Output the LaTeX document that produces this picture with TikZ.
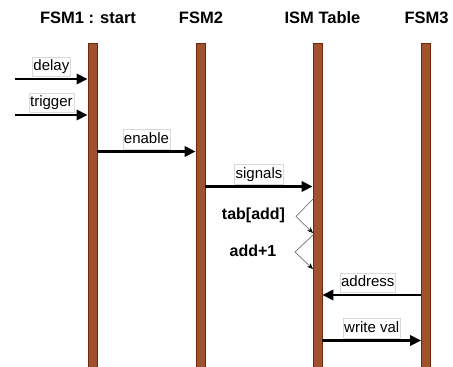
\documentclass[tikz,border=0pt]{standalone}
\usepackage{fontspec}
\setmainfont{Liberation Sans}
\usetikzlibrary{arrows.meta,positioning}
\definecolor{lifebar}{RGB}{160,82,45}
\definecolor{lifeedge}{RGB}{112,40,12}
\tikzset{
  lifeline/.style={fill=lifebar,draw=lifeedge,line width=0.6pt,minimum width=9pt,minimum height=324pt,inner sep=0pt},
  head/.style={font=\fontsize{16.5}{18}\selectfont\bfseries,anchor=base},
  msg/.style={line width=2.8pt,-{Triangle[length=11pt,width=10pt]}},
  msglabel/.style={draw=black!15,line width=0.5pt,fill=white,inner xsep=1.2pt,inner ysep=2.5pt,text height=11pt,text depth=3.5pt,font=\fontsize{15}{16}\selectfont,above=2.2pt},
  selfmsg/.style={draw=black!55,line width=0.7pt,-{Stealth[length=6pt,width=5pt,black]}},
  selflabel/.style={font=\fontsize{16}{18}\selectfont\bfseries}
}

\begin{document}
\begin{tikzpicture}[x=1pt,y=-1pt]
  \useasboundingbox (0,0) rectangle (453,367);
  %\draw[help lines,step=20] (0,0) grid (453,367);

  % lifelines
  \node[lifeline] (fsmA) at (92.5,205) {};
  \node[lifeline] (fsmB) at (200.5,205) {};
  \node[lifeline] (ism)  at (317.5,205) {};
  \node[lifeline] (fsmC) at (426,205) {};

  % heads
  \node[head] (hA) at (88,23)    {FSM1 : start};
  \node[head] (hB) at (201,23)   {FSM2};
  \node[head] (hI) at (322.5,23) {ISM Table};
  \node[head] (hC) at (426.5,23) {FSM3};

  % messages
  \coordinate (delayS) at (15,79);
  \draw[msg] (delayS) -- (delayS -| fsmA.west) node[msglabel,midway] (delayL) {delay};
  \coordinate (trigS) at (15,115);
  \draw[msg] (trigS) -- (trigS -| fsmA.west) node[msglabel,midway] (trigL) {trigger};
  \coordinate (enableS) at (97,151.5);
  \draw[msg] (enableS -| fsmA.east) -- (enableS -| fsmB.west) node[msglabel,midway] (enableL) {enable};
  \coordinate (sigS) at (205,186.5);
  \draw[msg] (sigS -| fsmB.east) -- (sigS -| ism.west) node[msglabel,midway] (sigL) {signals};
  \coordinate (addrS) at (421,295);
  \draw[msg] (addrS -| fsmC.west) -- (addrS -| ism.east) node[msglabel,midway,xshift=-4pt] (addrL) {address};
  \coordinate (wvalS) at (323,340.5);
  \draw[msg] (wvalS -| ism.east) -- (wvalS -| fsmC.west) node[msglabel,midway] (wvalL) {write val};

  % self messages on the table
  \coordinate (tabS) at (313,199);
  \coordinate (tabK) at (296,216.5);
  \coordinate (tabE) at (313,233);
  \draw[selfmsg] (tabS) -- (tabK) -- (tabE);
  \node[selflabel] (tabL) at (253.5,215.5) {tab[add]};
  \coordinate (incS) at (313,235);
  \coordinate (incK) at (295,252);
  \coordinate (incE) at (313,269);
  \draw[selfmsg] (incS) -- (incK) -- (incE);
  \node[selflabel] (incL) at (253,251) {add+1};
\end{tikzpicture}
\end{document}
